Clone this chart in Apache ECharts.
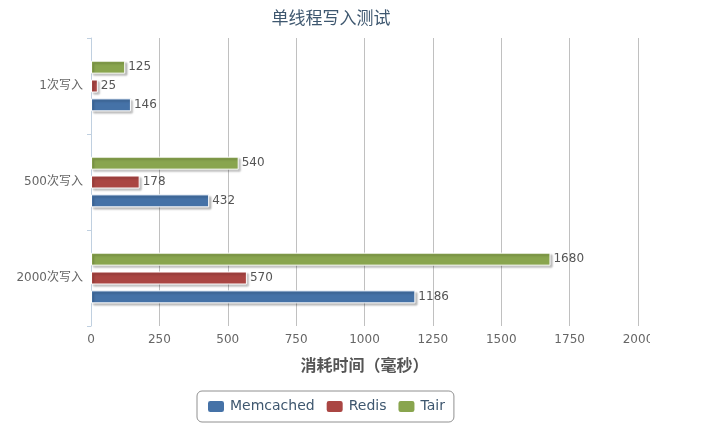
<!DOCTYPE html>
<html>
<head>
<meta charset="utf-8">
<script src="https://cdn.jsdelivr.net/npm/echarts@6/dist/echarts.min.js"></script>
<style>
    html, body { margin: 0; padding: 0; background: #fff; }
    #main { width: 703px; height: 428px; }
</style>
</head>
<body>
<div id="main"></div>
<script>
// 数据
var categories = ['1次写入', '500次写入', '2000次写入'];
var memcachedData = [146, 432, 1186];
var redisData = [25, 178, 570];
var tairData = [125, 540, 1680];
var xTicks = [0, 250, 500, 750, 1000, 1250, 1500, 1750, 2000];

var fontFamily = '"Lucida Grande", "DejaVu Sans", "Noto Sans CJK SC", sans-serif';

function barSeries(name, color, data) {
    return {
        name: name,
        type: 'bar',
        data: data,
        barWidth: 13,
        barGap: '45%',
        itemStyle: {
            color: color,
            borderColor: '#fff',
            borderWidth: 1,
            shadowColor: 'rgba(0,0,0,0.25)',
            shadowBlur: 2,
            shadowOffsetX: 2,
            shadowOffsetY: 2
        },
        label: {
            show: true,
            position: 'right',
            distance: 3,
            color: '#555',
            fontSize: 12,
            fontFamily: fontFamily
        }
    };
}

var option = {
    animation: false,
    title: {
        text: '单线程写入测试',
        left: 326,
        textAlign: 'center',
        top: 6,
        textStyle: {
            fontWeight: 'normal',
            fontSize: 17,
            color: '#3E576F',
            fontFamily: fontFamily
        }
    },
    legend: {
        bottom: 6,
        left: 197,
        padding: [8, 9, 8, 9],
        borderColor: '#909090',
        borderWidth: 1,
        borderRadius: 5,
        itemWidth: 18,
        itemHeight: 13,
        itemGap: 10,
        icon: 'roundRect',
        textStyle: { color: '#3E576F', fontSize: 14, fontFamily: fontFamily },
        data: ['Memcached', 'Redis', 'Tair']
    },
    grid: {
        left: 91,
        right: 65,
        top: 38,
        bottom: 102
    },
    xAxis: {
        type: 'value',
        min: 0,
        max: 2000,
        interval: 250,
        name: '消耗时间（毫秒）',
        nameLocation: 'middle',
        nameGap: 33,
        nameTextStyle: { color: '#555', fontSize: 16, fontWeight: 'bold', fontFamily: fontFamily },
        axisLine: { show: false },
        axisTick: { show: false },
        axisLabel: {
            color: '#666',
            fontSize: 12,
            margin: 8,
            fontFamily: fontFamily,
            formatter: function (v) { return xTicks.indexOf(v) >= 0 ? String(v) : ''; }
        },
        splitLine: { show: true, lineStyle: { color: '#C0C0C0', width: 1 } }
    },
    yAxis: {
        type: 'category',
        inverse: true,
        data: categories,
        axisLine: { show: true, lineStyle: { color: '#C0D0E0' } },
        axisTick: { show: true, length: 4, lineStyle: { color: '#C0D0E0' } },
        axisLabel: { color: '#666', fontSize: 12, margin: 8, fontFamily: fontFamily }
    },
    // 反序排列, 使 Tair 在每组最上方
    series: [
        barSeries('Tair', '#89A54E', tairData),
        barSeries('Redis', '#AA4643', redisData),
        barSeries('Memcached', '#4572A7', memcachedData)
    ],
    graphic: [{
        // 原图右侧被裁切
        type: 'rect',
        right: 0,
        top: 0,
        z: 100,
        shape: { width: 53, height: 428 },
        style: { fill: '#fff' }
    }]
};

var chart = echarts.init(document.getElementById('main'));
chart.setOption(option);
</script>
</body>
</html>
